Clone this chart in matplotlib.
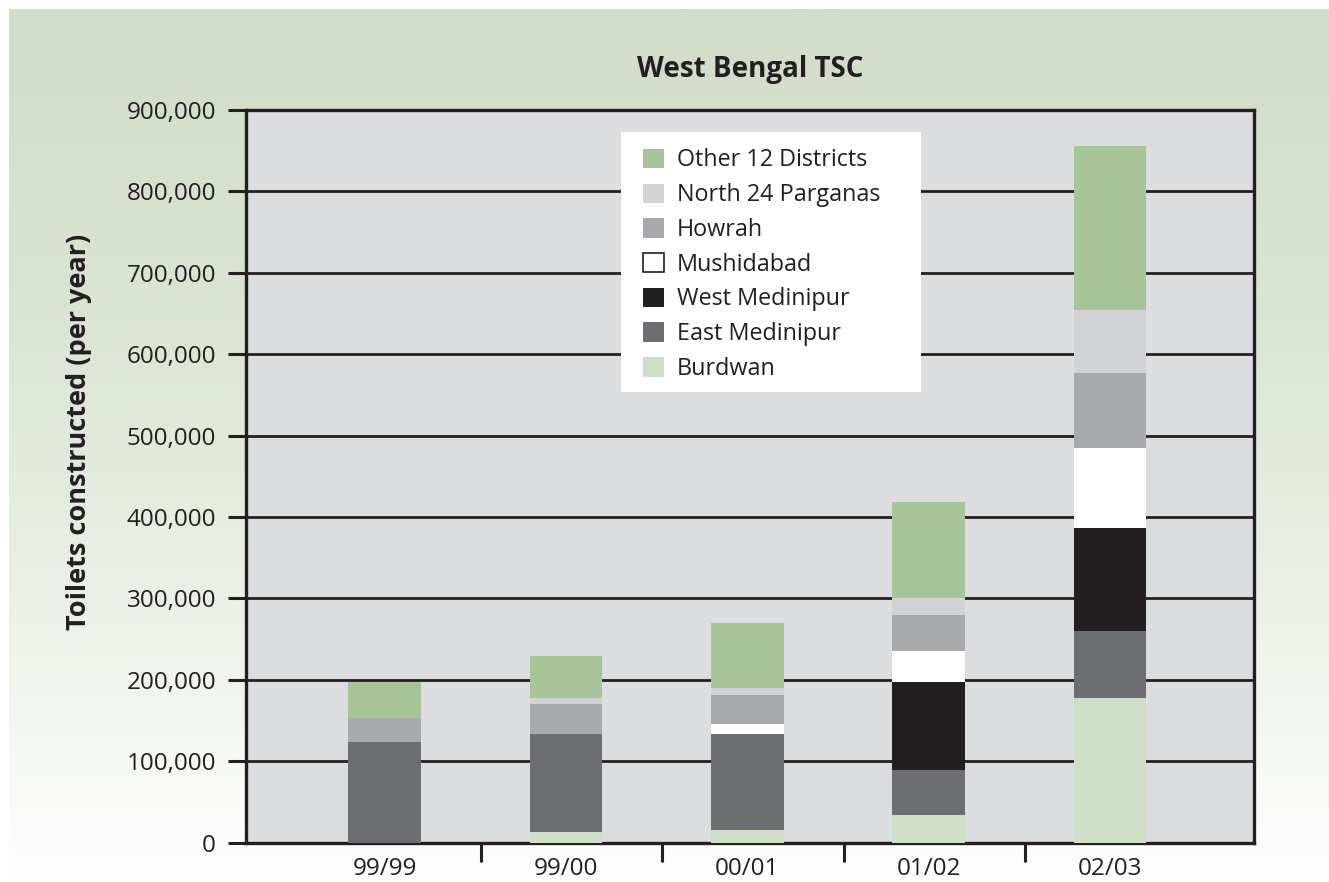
import numpy as np
import matplotlib
matplotlib.use("Agg")
import matplotlib.pyplot as plt
from matplotlib.ticker import FuncFormatter, FixedLocator
from matplotlib.colors import to_rgb
from matplotlib.patches import Rectangle

plt.rcParams['font.family'] = ['Open Sans', 'DejaVu Sans']

categories = ["99/99", "99/00", "00/01", "01/02", "02/03"]
burdwan = [0, 13000, 15000, 34000, 178000]
east_medinipur = [124000, 120000, 119000, 55000, 82000]
west_medinipur = [0, 0, 0, 109000, 126000]
mushidabad = [0, 0, 12000, 38000, 99000]
howrah = [29000, 37000, 36000, 44000, 92000]
north_24 = [0, 7500, 8000, 21000, 77000]
other_12 = [45000, 52000, 80000, 118000, 202000]

series = [
    ("Burdwan", burdwan, "#cfdfc7"),
    ("East Medinipur", east_medinipur, "#6d6e71"),
    ("West Medinipur", west_medinipur, "#231f20"),
    ("Mushidabad", mushidabad, "#ffffff"),
    ("Howrah", howrah, "#a7a9ac"),
    ("North 24 Parganas", north_24, "#d1d3d4"),
    ("Other 12 Districts", other_12, "#a8c499"),
]

W, H = 1329, 882
fig = plt.figure(figsize=(W / 100, H / 100), dpi=100)
fig.patch.set_facecolor("white")

# gradient background
bg = fig.add_axes([9 / W, 0, 1 - 9 / W, (H - 9) / H], zorder=-10)
n = 400
t = np.linspace(0, 1, n) ** 1.5
top = np.array(to_rgb("#d2dec9"))
bot = np.array(to_rgb("#ffffff"))
grad = top[None, :] * (1 - t[:, None]) + bot[None, :] * t[:, None]
bg.imshow(grad[:, None, :], aspect="auto", extent=[0, 1, 0, 1])
bg.axis("off")

ax = fig.add_axes([246 / W, (H - 842.7) / H, 1008 / W, 732.7 / H])
ax.set_facecolor("#dcdddf")
x = np.arange(len(categories))
bottom = np.zeros(len(categories))
handles = []
for name, vals, col in series:
    vals = np.array(vals, dtype=float)
    b = ax.bar(x, vals, width=0.40, bottom=bottom, color=col,
               edgecolor="none", label=name, zorder=3)
    bottom += vals
    handles.append(b)

ax.set_xlim(-0.764, 4.793)
ax.set_ylim(0, 900000)
ax.set_yticks(np.arange(0, 900001, 100000))
ax.yaxis.set_major_formatter(FuncFormatter(lambda v, p: f"{int(v):,}"))
ax.grid(axis="y", color="#231f20", linewidth=2.0, zorder=1)
ax.set_axisbelow(True)

ax.set_xticks(x)
ax.set_xticklabels(categories)
ax.xaxis.set_minor_locator(FixedLocator([0.53, 1.53, 2.53, 3.53]))
ax.tick_params(axis="x", which="major", length=0, pad=10, labelsize=17.5, labelcolor="#231f20")
ax.tick_params(axis="x", which="minor", length=13.7, width=2.2, color="#231f20", direction="out")
ax.tick_params(axis="y", which="major", length=13, width=2.2, color="#231f20", pad=8.6,
               labelsize=17.5, labelcolor="#231f20")

for s in ax.spines.values():
    s.set_color("#231f20")
    s.set_linewidth(2.4)

ax.set_ylabel("Toilets constructed (per year)", fontsize=19.5, fontweight="bold",
              color="#231f20")
ax.yaxis.set_label_coords(-0.1528, 0.5605)
ax.set_title("West Bengal TSC", fontsize=20, fontweight="bold", color="#231f20", pad=24)

# legend background box
ax.add_patch(Rectangle((0.372, 0.6151), 0.6696 - 0.372, 0.970 - 0.6151,
                       transform=ax.transAxes, facecolor="white", edgecolor="none",
                       zorder=4))

leg_h = handles[::-1]
fs = 16.8
leg = ax.legend(leg_h, [s[0] for s in series][::-1], loc="upper left",
                bbox_to_anchor=((643 - 246) / 1008, (842.7 - 148.5) / 732.7),
                borderaxespad=0, fontsize=fs, frameon=False,
                handlelength=0.9, handleheight=0.9,
                handletextpad=0.55, labelspacing=0.46, borderpad=0)
leg.set_zorder(5)
for txt in leg.get_texts():
    txt.set_color("#231f20")
for p, (name, _, col) in zip(leg.get_patches(), series[::-1]):
    if col.lower() == "#ffffff":
        p.set_edgecolor("#231f20")
        p.set_linewidth(1.2)
    else:
        p.set_edgecolor("none")

fig.savefig("out.png", dpi=100)
